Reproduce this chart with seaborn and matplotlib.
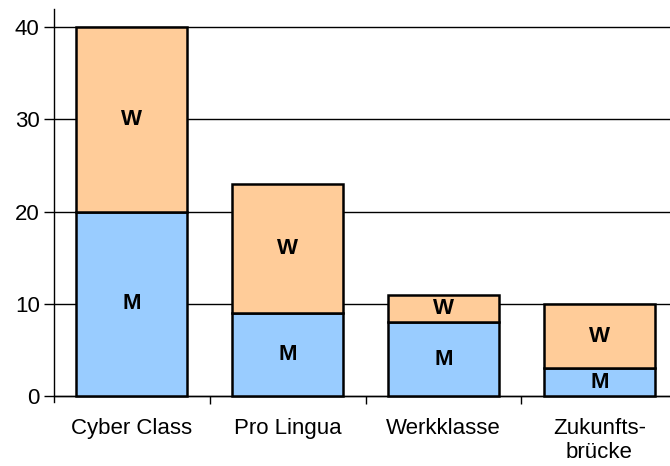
import numpy as np
import seaborn as sns
import matplotlib.pyplot as plt
from matplotlib.ticker import FixedLocator

# data
categories = ["Cyber Class", "Pro Lingua", "Werkklasse", "Zukunfts-\nbrücke"]
men = [20, 9, 8, 3]
women = [20, 14, 3, 7]

sns.set_style("white")
plt.rcParams['font.family'] = ['Liberation Sans', 'DejaVu Sans']
plt.rcParams['text.color'] = 'black'
plt.rcParams['xtick.color'] = 'black'
plt.rcParams['ytick.color'] = 'black'

fig = plt.figure(figsize=(6.7, 4.66), dpi=100)
ax = fig.add_axes([0.0799, 0.1373, 0.9201, 0.8444])

sns.barplot(x=categories, y=men, color="#99CCFF", width=0.71,
            edgecolor="black", linewidth=1.8, saturation=1, ax=ax, zorder=3)
sns.barplot(x=categories, y=women, bottom=men, color="#FFCC99", width=0.71,
            edgecolor="black", linewidth=1.8, saturation=1, ax=ax, zorder=3)

ax.bar_label(ax.containers[0], labels=["M"] * len(men), label_type="center",
             fontsize=16, fontweight="bold", color="black")
ax.bar_label(ax.containers[1], labels=["W"] * len(women), label_type="center",
             fontsize=16, fontweight="bold", color="black")

ax.set_ylim(-0.65, 42)
ax.set_xlim(-0.5, 3.452)
ax.set_yticks([0, 10, 20, 30, 40])
ax.yaxis.grid(True, color="black", linewidth=1)
ax.set_axisbelow(True)
ax.spines["bottom"].set_position(("data", 0))

for s in ["top", "right"]:
    ax.spines[s].set_visible(False)
for s in ["left", "bottom"]:
    ax.spines[s].set_color("black")
    ax.spines[s].set_linewidth(1)

ax.tick_params(axis="y", left=True, length=7, width=1, color="black",
               labelsize=16, labelcolor="black", pad=3)
ax.tick_params(axis="x", which="major", length=0, labelsize=16,
               labelcolor="black", pad=16)
ax.xaxis.set_minor_locator(FixedLocator([0.5, 1.5, 2.5]))
ax.tick_params(axis="x", which="minor", bottom=True, length=6, width=1,
               color="black")
ax.get_xticklabels()[3].set_linespacing(1.15)

fig.savefig("out.png", dpi=100)
